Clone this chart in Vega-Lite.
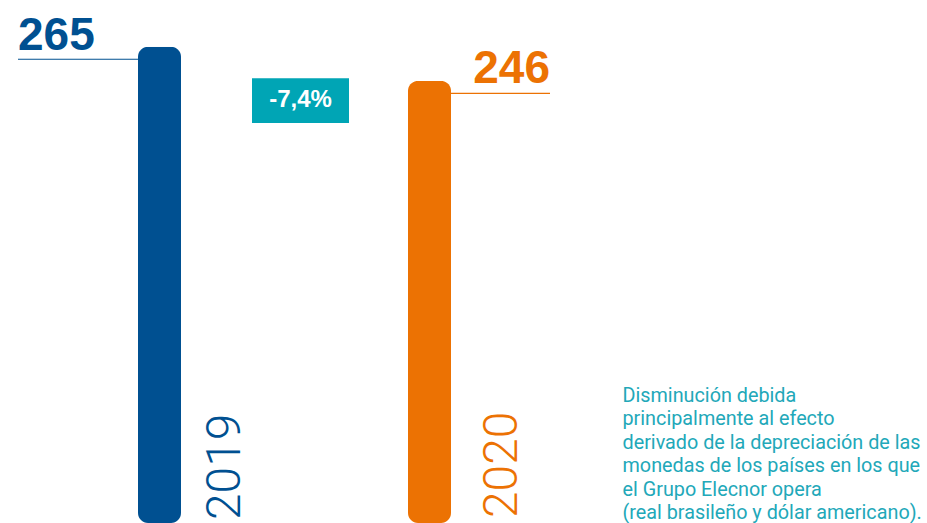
{
  "$schema": "https://vega.github.io/schema/vega-lite/v6.json",
  "width": 927,
  "height": 523,
  "padding": 0,
  "autosize": {"type": "none"},
  "background": "white",
  "config": {"view": {"stroke": null}},
  "data": {"values": [
    {"year": "2019", "value": 265},
    {"year": "2020", "value": 246}
  ]},
  "encoding": {
    "x": {"field": "year", "type": "ordinal", "scale": {"type": "point", "domain": ["2019", "2020"], "range": [159.5, 429.5], "padding": 0}, "axis": null},
    "y": {"field": "value", "type": "quantitative", "scale": {"domain": [0, 291], "nice": false, "zero": true}, "axis": null},
    "color": {"field": "year", "type": "nominal", "scale": {"domain": ["2019", "2020"], "range": ["#005091", "#ec7203"]}, "legend": null}
  },
  "layer": [
    {"mark": {"type": "bar", "size": 43, "cornerRadius": 10}},
    {
      "transform": [{"filter": "datum.year == '2019'"}],
      "mark": {"type": "rule", "strokeWidth": 1.2, "xOffset": -141.5, "x2Offset": -21.5, "yOffset": 12.5},
      "encoding": {"x2": {"field": "year"}}
    },
    {
      "transform": [{"filter": "datum.year == '2020'"}],
      "mark": {"type": "rule", "strokeWidth": 1.2, "xOffset": 21.5, "x2Offset": 120.5, "yOffset": 12.5},
      "encoding": {"x2": {"field": "year"}}
    },
    {
      "transform": [{"filter": "datum.year == '2019'"}],
      "mark": {"type": "text", "align": "left", "baseline": "alphabetic", "font": "Liberation Sans", "fontWeight": "bold", "fontSize": 46, "xOffset": -141.5, "yOffset": 3.3},
      "encoding": {"text": {"field": "value", "type": "quantitative"}}
    },
    {
      "transform": [{"filter": "datum.year == '2020'"}],
      "mark": {"type": "text", "align": "right", "baseline": "alphabetic", "font": "Liberation Sans", "fontWeight": "bold", "fontSize": 46, "xOffset": 120.5, "yOffset": 2},
      "encoding": {"text": {"field": "value", "type": "quantitative"}}
    },
    {
      "transform": [{"filter": "datum.year == '2019'"}],
      "mark": {"type": "text", "angle": 270, "align": "left", "baseline": "alphabetic", "font": "Roboto", "fontWeight": 300, "fontSize": 48, "xOffset": 80.5, "yOffset": -3},
      "encoding": {"y": {"datum": 0}, "text": {"field": "year"}}
    },
    {
      "transform": [{"filter": "datum.year == '2020'"}],
      "mark": {"type": "text", "angle": 270, "align": "left", "baseline": "alphabetic", "font": "Roboto", "fontWeight": 300, "fontSize": 48, "xOffset": 87, "yOffset": -5},
      "encoding": {"y": {"datum": 0}, "text": {"field": "year"}}
    },
    {
      "transform": [{"filter": "datum.year == '2019'"}],
      "mark": {"type": "rect", "xOffset": 92.5, "x2Offset": 189.5},
      "encoding": {
        "x2": {"field": "year"},
        "y": {"datum": 247.5},
        "y2": {"datum": 222.5},
        "color": {"value": "#00a5b5"}
      }
    },
    {
      "transform": [{"filter": "datum.year == '2019'"}],
      "mark": {"type": "text", "align": "center", "baseline": "alphabetic", "font": "Liberation Sans", "fontWeight": "bold", "fontSize": 24, "xOffset": 141},
      "encoding": {
        "y": {"datum": 231.5},
        "text": {"value": "-7,4%"},
        "color": {"value": "white"}
      }
    },
    {
      "transform": [{"filter": "datum.year == '2020'"}],
      "mark": {"type": "text", "align": "left", "baseline": "alphabetic", "font": "Roboto", "fontSize": 19.8, "lineHeight": 23.5, "xOffset": 193},
      "encoding": {
        "y": {"datum": 67.5},
        "text": {"value": ["Disminución debida", "principalmente al efecto", "derivado de la depreciación de las", "monedas de los países en los que", "el Grupo Elecnor opera", "(real brasileño y dólar americano)."]},
        "color": {"value": "#22a8b9"}
      }
    }
  ]
}
